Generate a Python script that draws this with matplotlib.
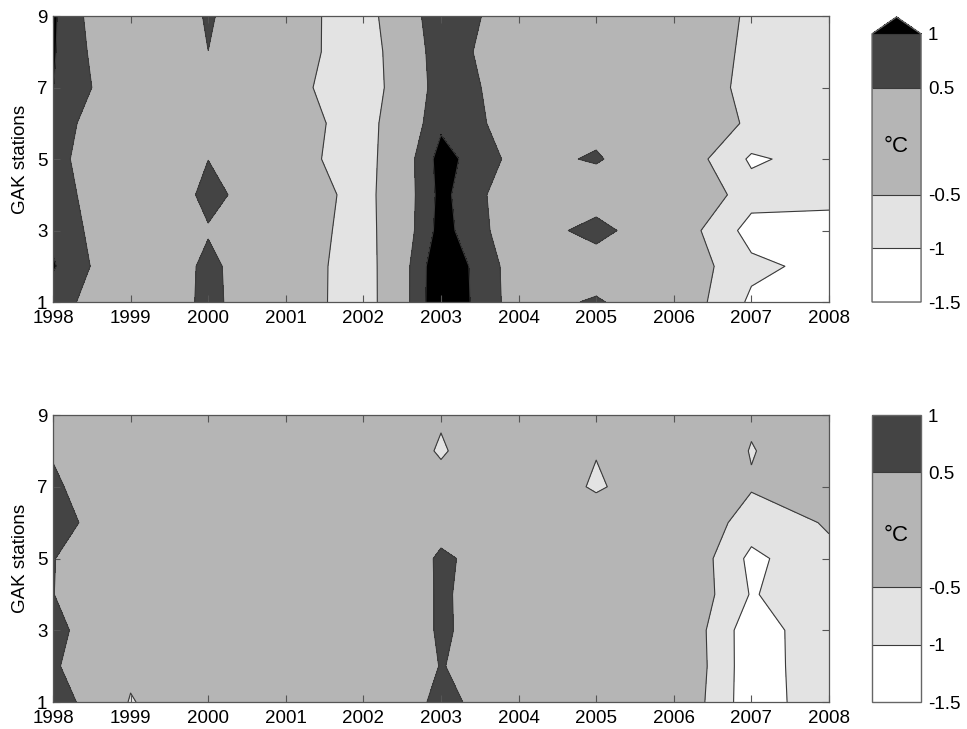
"""GAK line temperature anomalies: two contourf panels with colorbars."""
import matplotlib
import numpy as np

matplotlib.use('Agg')
import matplotlib.pyplot as plt

plt.rcParams['font.family'] = ['Liberation Sans', 'DejaVu Sans']
plt.rcParams['font.size'] = 13.5

years = np.arange(1998, 2009)
stations = np.arange(1, 10)
levels = [-1.5, -1.0, -0.5, 0.5, 1.0]
cbar_ticks = [-1.5, -1.0, -0.5, 0.5, 1.0]
cbar_labels = ['-1.5', '-1', '-0.5', '0.5', '1']

# anomaly (deg C), one row per year, values for stations 1..9
upper_anom = [
    [0.76, 1.05, 0.90, 0.80, 0.70, 0.80, 1.01, 1.05, 1.08],          # 1998
    [-0.10, -0.10, -0.11, -0.17, -0.20, -0.17, -0.01, -0.20, -0.40],  # 1999
    [0.625, 0.61, 0.465, 0.63, 0.495, 0.20, 0.20, 0.497, 0.57],       # 2000
    [0.00, 0.00, 0.025, 0.12, -0.18, -0.12, -0.24, -0.12, -0.20],     # 2001
    [-0.93, -0.92, -0.85, -0.82, -0.875, -0.85, -0.98, -0.95, -0.85], # 2002
    [1.47, 1.45, 1.20, 1.15, 1.21, 0.90, 0.80, 0.85, 0.95],           # 2003
    [0.22, 0.20, 0.09, 0.05, 0.30, 0.22, 0.22, 0.00, 0.085],          # 2004
    [0.574, 0.12, 0.73, 0.12, 0.56, 0.32, 0.10, 0.05, 0.00],          # 2005
    [-0.053, -0.082, -0.128, 0.17, -0.05, 0.067, 0.176, 0.25, 0.067], # 2006
    [-1.09, -0.886, -1.19, -0.80, -1.073, -0.60, -0.75, -0.70, -0.60],# 2007
    [-1.20, -1.15, -1.20, -0.85, -0.80, -0.80, -0.75, -0.75, -0.70],  # 2008
]
lower_anom = [
    [0.95, 0.59, 0.66, 0.51, 0.52, 0.80, 0.60, 0.45, 0.30],           # 1998
    [-0.55, -0.35, -0.10, -0.10, -0.10, -0.10, -0.10, -0.10, -0.10],  # 1999
    [0.16, 0.05, 0.00, -0.05, 0.00, 0.05, 0.00, -0.10, -0.10],        # 2000
    [0.10, 0.10, 0.05, 0.00, 0.05, 0.00, -0.05, -0.10, -0.15],        # 2001
    [0.20, 0.20, 0.15, 0.10, 0.20, 0.10, -0.10, -0.20, -0.20],        # 2002
    [0.566, 0.509, 0.535, 0.54, 0.533, 0.42, -0.405, -0.53, -0.47],   # 2003
    [0.33, 0.36, 0.316, 0.27, 0.367, 0.20, 0.00, -0.21, -0.20],       # 2004
    [0.10, 0.10, 0.10, 0.00, 0.00, -0.13, -0.575, -0.474, -0.30],     # 2005
    [0.04, 0.114, 0.08, 0.10, 0.142, 0.065, -0.05, 0.17, 0.10],       # 2006
    [-1.31, -1.314, -1.31, -1.036, -1.127, -0.742, -0.457, -0.528, -0.42],  # 2007
    [-0.636, -0.60, -0.59, -0.676, -0.589, -0.46, -0.30, -0.10, -0.10],     # 2008
]

fill_colors = ['#ffffff', '#e3e3e3', '#b5b5b5', '#444444']
over_color = '#000000'
line_color = '#3a3a3a'


def panel(fig, ax_rect, cax_rect, data, extend):
    ax = fig.add_axes(ax_rect)
    cax = fig.add_axes(cax_rect)
    X, Y = np.meshgrid(years, stations)
    Z = np.array(data).T
    colors = fill_colors + ([over_color] if extend == 'max' else [])
    cs = ax.contourf(X, Y, Z, levels=levels, colors=colors, extend=extend)
    line_levels = [lv for lv in levels[1:] if lv < Z.max()]
    cl = ax.contour(X, Y, Z, levels=line_levels, colors=line_color,
                    linewidths=0.8, linestyles='solid')

    ax.set_xlim(1998, 2008)
    ax.set_ylim(1, 9)
    ax.set_xticks(years)
    ax.set_yticks([1, 3, 5, 7, 9])
    ax.set_ylabel('GAK stations', labelpad=6)
    ax.tick_params(direction='in', top=True, right=True, length=5, width=0.8,
                   color='#555555')
    ax.tick_params(axis='x', pad=6)
    ax.tick_params(axis='y', pad=4)
    for sp in ax.spines.values():
        sp.set_color('#555555')
        sp.set_linewidth(0.9)

    cbar = fig.colorbar(cs, cax=cax, spacing='proportional', extendfrac=0.063)
    cbar.set_ticks(cbar_ticks)
    cbar.set_ticklabels(cbar_labels)
    cbar.ax.tick_params(length=0, pad=5)
    cbar.outline.set_edgecolor('#666666')
    cbar.outline.set_linewidth(1.0)
    cbar.add_lines(cl)
    cbar.ax.text(0.5, -0.05, '°C', transform=cbar.ax.get_yaxis_transform(),
                 ha='center', va='center', fontsize=16)
    return ax


fig = plt.figure(figsize=(9.67, 7.29), dpi=100)
panel(fig, [0.0548, 0.5857, 0.8025, 0.3923], [0.9018, 0.5857, 0.0507, 0.3910], upper_anom, 'max')
panel(fig, [0.0548, 0.0370, 0.8025, 0.3937], [0.9018, 0.0370, 0.0507, 0.3937], lower_anom, 'neither')
fig.savefig('out.png', dpi=100)
plt.close(fig)
